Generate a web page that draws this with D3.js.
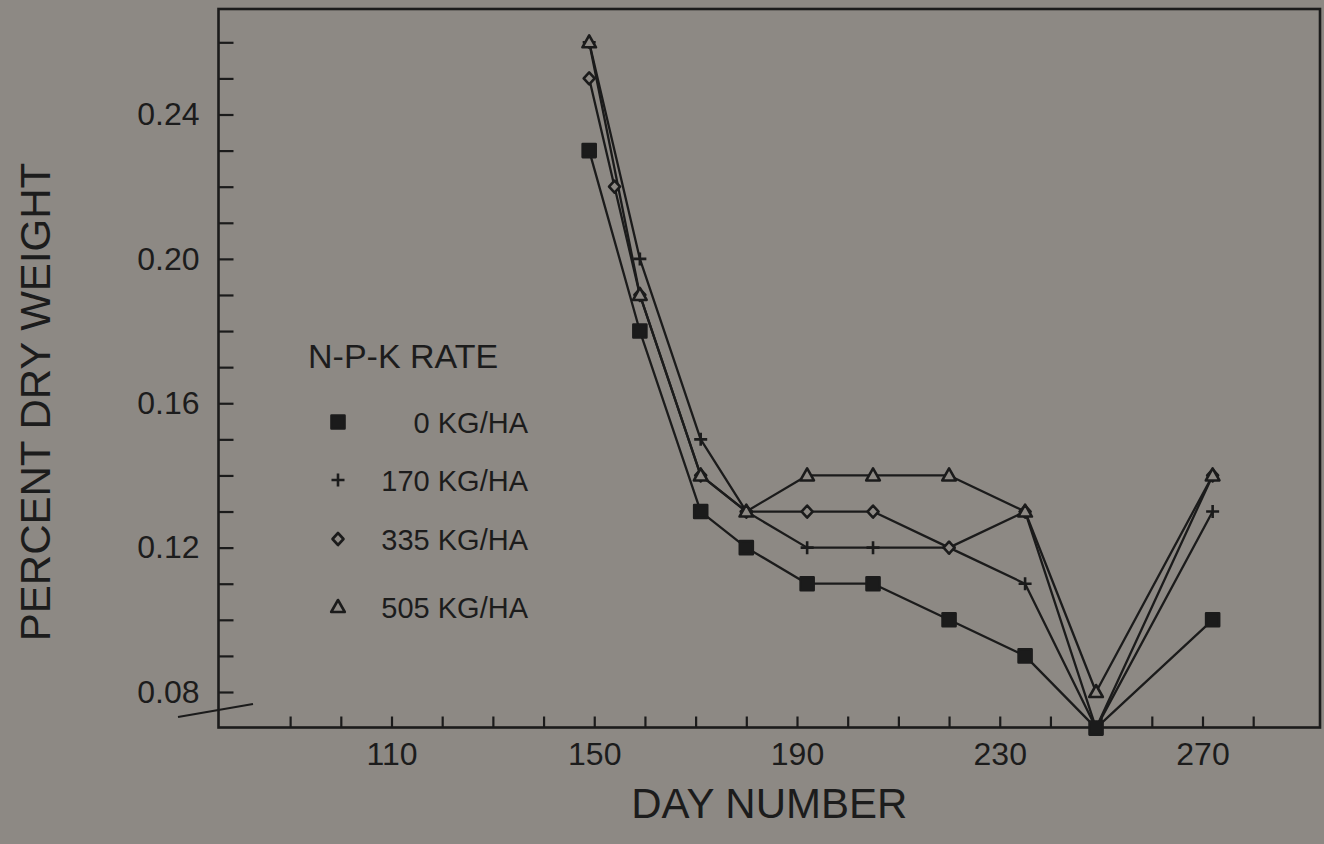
<!DOCTYPE html>
<html>
<head>
<meta charset="utf-8">
<script src="https://cdn.jsdelivr.net/npm/d3@7"></script>
<style>
  html, body { margin: 0; padding: 0; background: #8d8984; }
  svg { display: block; }
  text { font-family: "Liberation Sans", Arial, Helvetica, sans-serif; fill: #1c1c1c; }
</style>
</head>
<body>
<svg id="chart" width="1324" height="844"></svg>
<script>
// Sampling dates (day of year) and percent dry weight per N-P-K rate
const dayNumbers = [149, 159, 171, 180, 192, 205, 220, 235, 249, 272];
const rate0   = [0.23, 0.18, 0.13, 0.12, 0.11, 0.11, 0.10, 0.09, 0.07, 0.10];
const rate170 = [0.26, 0.20, 0.15, 0.13, 0.12, 0.12, 0.12, 0.11, 0.07, 0.13];
const rate335Days = [149, 154, 159, 171, 180, 192, 205, 220, 235, 249, 272];
const rate335 = [0.25, 0.22, 0.19, 0.14, 0.13, 0.13, 0.13, 0.12, 0.13, 0.07, 0.14];
const rate505 = [0.26, 0.19, 0.14, 0.13, 0.14, 0.14, 0.14, 0.13, 0.08, 0.14];

const seriesNames = ["0 KG/HA", "170 KG/HA", "335 KG/HA", "505 KG/HA"];
const legendTitle = "N-P-K RATE";
const xTickLabels = [110, 150, 190, 230, 270];
const yTickLabels = [0.08, 0.12, 0.16, 0.20, 0.24];
const xTitle = "DAY NUMBER";
const yTitle = "PERCENT DRY WEIGHT";

// Layout
const frame = { left: 218.5, right: 1320, top: 9, bottom: 727.5 };
const ink = "#1b1b1b";
const paper = "#8d8984";

const svg = d3.select("#chart");

const x = d3.scaleLinear().domain([110, 270]).range([391.5, 1202.5]);
const y = d3.scaleLinear().domain([0.08, 0.24]).range([692, 114.5]);

const series = [
  { name: seriesNames[0], shape: "square",   days: dayNumbers,  values: rate0 },
  { name: seriesNames[1], shape: "plus",     days: dayNumbers,  values: rate170 },
  { name: seriesNames[2], shape: "diamond",  days: rate335Days, values: rate335 },
  { name: seriesNames[3], shape: "triangle", days: dayNumbers,  values: rate505 }
];

// Axes with inward minor ticks; only selected ticks get labels
const xTicks = d3.range(90, 281, 10);
const yTicks = d3.range(8, 27).map(v => v / 100);

const xAxis = d3.axisBottom(x)
  .tickValues(xTicks)
  .tickSizeInner(-11)
  .tickSizeOuter(0)
  .tickPadding(15)
  .tickFormat(d => xTickLabels.includes(d) ? String(d) : "");

const yAxis = d3.axisLeft(y)
  .tickValues(yTicks)
  .tickSizeInner(-15)
  .tickSizeOuter(0)
  .tickPadding(19)
  .tickFormat(d => yTickLabels.some(v => Math.abs(v - d) < 1e-9) ? d3.format(".2f")(d) : "");

const gx = svg.append("g")
  .attr("transform", `translate(0,${frame.bottom})`)
  .call(xAxis);
const gy = svg.append("g")
  .attr("transform", `translate(${frame.left},0)`)
  .call(yAxis);

[gx, gy].forEach(g => {
  g.select(".domain").remove();
  g.selectAll(".tick line").attr("stroke", ink).attr("stroke-width", 2.2);
  g.selectAll(".tick text")
    .attr("fill", ink)
    .style("font-size", "32px")
    .style("font-family", '"Liberation Sans", Arial, sans-serif');
});

// Plot frame
svg.append("rect")
  .attr("x", frame.left)
  .attr("y", frame.top)
  .attr("width", frame.right - frame.left)
  .attr("height", frame.bottom - frame.top)
  .attr("fill", "none")
  .attr("stroke", ink)
  .attr("stroke-width", 2.6);

// Axis break mark near the origin
svg.append("line")
  .attr("x1", 178).attr("y1", 717)
  .attr("x2", 253).attr("y2", 704)
  .attr("stroke", ink)
  .attr("stroke-width", 2.2);

// Series lines
const line = d3.line()
  .x(d => x(d.day))
  .y(d => y(d.value));

series.forEach(s => {
  s.points = s.days.map((day, i) => ({ day, value: s.values[i] }));
});

svg.append("g")
  .selectAll("path")
  .data(series)
  .join("path")
  .attr("d", s => line(s.points))
  .attr("fill", "none")
  .attr("stroke", ink)
  .attr("stroke-width", 2.3)
  .attr("stroke-linejoin", "round");

// Marker shapes
function markerPath(shape) {
  switch (shape) {
    case "square":   return "M-6.5,-6.5H6.5V6.5H-6.5Z";
    case "plus":     return "M-6.5,0H6.5M0,-6.5V6.5";
    case "diamond":  return "M0,-6L5.5,0L0,6L-5.5,0Z";
    case "triangle": return "M0,-7L6.8,5L-6.8,5Z";
  }
}
function styleMarker(sel, shape) {
  sel.attr("d", markerPath(shape))
    .attr("stroke", ink)
    .attr("stroke-width", 2.6)
    .attr("stroke-linejoin", "round")
    .attr("fill", shape === "square" ? ink : (shape === "plus" ? "none" : paper));
}

// Open markers first, filled squares on top
[1, 2, 3, 0].map(i => series[i]).forEach(s => {
  svg.append("g")
    .selectAll("path")
    .data(s.points)
    .join("path")
    .attr("transform", d => `translate(${x(d.day)},${y(d.value)})`)
    .call(styleMarker, s.shape);
});

// Legend
const legend = { titleX: 308, titleY: 368, markerX: 338, textRight: 528, rowY: [422, 480, 539, 607] };
svg.append("text")
  .attr("x", legend.titleX)
  .attr("y", legend.titleY)
  .style("font-size", "34px")
  .text(legendTitle);

series.forEach((s, i) => {
  const cy = legend.rowY[i];
  svg.append("path")
    .attr("transform", `translate(${legend.markerX},${cy})`)
    .call(styleMarker, s.shape);
  svg.append("text")
    .attr("x", legend.textRight)
    .attr("y", cy + 10.5)
    .attr("text-anchor", "end")
    .style("font-size", "29px")
    .text(s.name);
});

// Axis titles
svg.append("text")
  .attr("x", (frame.left + frame.right) / 2)
  .attr("y", 818)
  .attr("text-anchor", "middle")
  .style("font-size", "42px")
  .text(xTitle);

svg.append("text")
  .attr("transform", "translate(50,402) rotate(-90)")
  .attr("text-anchor", "middle")
  .style("font-size", "42px")
  .text(yTitle);
</script>
</body>
</html>
